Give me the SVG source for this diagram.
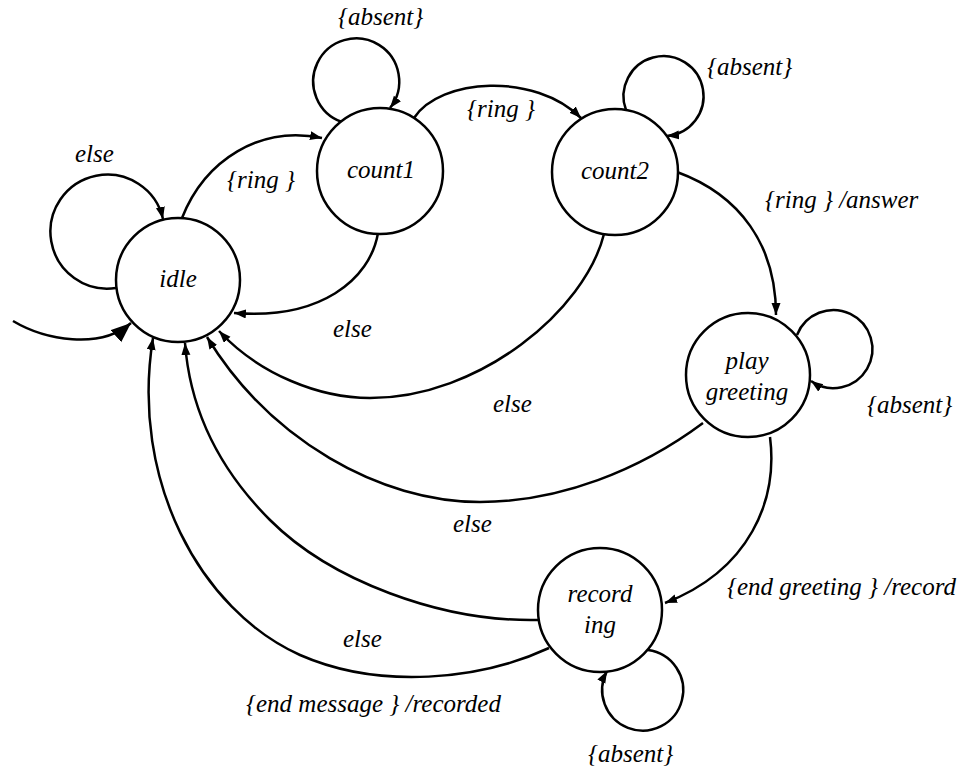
<svg xmlns="http://www.w3.org/2000/svg" width="971" height="771" viewBox="0 0 971 771">
  <defs>
    <marker id="arrow" markerUnits="userSpaceOnUse" markerWidth="13" markerHeight="10" refX="12" refY="4.5" orient="auto">
      <path d="M0,0 L12,4.5 L0,9 z" fill="#000"/>
    </marker>
    <marker id="arrow-init" markerUnits="userSpaceOnUse" markerWidth="22" markerHeight="18" refX="20" refY="8" orient="auto">
      <path d="M0,0 L20,8 L0,16 z" fill="#000"/>
    </marker>
  </defs>
  <style>
    .state { fill: #fff; stroke: #000; stroke-width: 2.5; }
    .edge { fill: none; stroke: #000; stroke-width: 2.5; marker-end: url(#arrow); }
    .init { fill: none; stroke: #000; stroke-width: 2.5; marker-end: url(#arrow-init); }
    text { font-size: 25px; fill: #000; }
  </style>

  <!-- transitions -->
  <g id="connectors">
    <path class="init" d="M13,321 C45,340 100,350 131,323"/>
    <!-- self loops -->
    <path class="edge" d="M116,288 A57,57 0 1 1 163,219"/>
    <path class="edge" d="M342,122 A43,43 0 1 1 390,108"/>
    <path class="edge" d="M626,110 A40,40 0 1 1 667,136"/>
    <path class="edge" d="M797,335 A39,39 0 1 1 811,381"/>
    <path class="edge" d="M648,650 A40.5,40.5 0 1 1 607,671"/>
    <!-- forward -->
    <path class="edge" d="M182,218 C205,160 260,125 322,138"/>
    <path class="edge" d="M414,118 C440,78 535,72 581,118"/>
    <path class="edge" d="M677,172 C740,195 776,245 776,315"/>
    <path class="edge" d="M770,437 C778,500 750,570 665,603"/>
    <!-- back to idle -->
    <path class="edge" d="M378,233 C370,280 320,320 234,313"/>
    <path class="edge" d="M604,234 C585,310 480,398 370,398 C320,398 260,375 219,331"/>
    <path class="edge" d="M703,423 C640,470 560,502 480,502 C380,502 270,440 207,337"/>
    <path class="edge" d="M538,620 C440,622 330,580 270,520 C220,470 190,410 185,343"/>
    <path class="edge" d="M549,648 C480,680 380,690 300,655 C200,610 130,480 153,338"/>
  </g>

  <!-- states -->
  <g id="idle">
    <circle class="state" cx="178" cy="280" r="62"/>
    <text x="178" y="287" text-anchor="middle" font-family="Liberation Serif" font-style="italic">idle</text>
  </g>
  <g id="count1">
    <circle class="state" cx="380" cy="171" r="63"/>
    <text x="381" y="178" text-anchor="middle" font-family="Liberation Serif" font-style="italic">count1</text>
  </g>
  <g id="count2">
    <circle class="state" cx="615" cy="172" r="63"/>
    <text x="615" y="179" text-anchor="middle" font-family="Liberation Serif" font-style="italic">count2</text>
  </g>
  <g id="play-greeting">
    <circle class="state" cx="748" cy="375" r="62"/>
    <text x="747" y="369" text-anchor="middle" font-family="Liberation Serif" font-style="italic">play</text>
    <text x="747" y="400" text-anchor="middle" font-family="Liberation Serif" font-style="italic">greeting</text>
  </g>
  <g id="recording">
    <circle class="state" cx="600" cy="610" r="62"/>
    <text x="600" y="602" text-anchor="middle" font-family="Liberation Serif" font-style="italic">record</text>
    <text x="600" y="633" text-anchor="middle" font-family="Liberation Serif" font-style="italic">ing</text>
  </g>

  <!-- transition labels -->
  <text x="75" y="162" font-family="Liberation Serif" font-style="italic">else</text>
  <text x="227" y="188" font-family="Liberation Serif" font-style="italic">{ring }</text>
  <text x="338" y="25" font-family="Liberation Serif" font-style="italic">{absent}</text>
  <text x="467" y="117" font-family="Liberation Serif" font-style="italic">{ring }</text>
  <text x="707" y="75" font-family="Liberation Serif" font-style="italic">{absent}</text>
  <text x="765" y="208" font-family="Liberation Serif" font-style="italic">{ring } /answer</text>
  <text x="867" y="413" font-family="Liberation Serif" font-style="italic">{absent}</text>
  <text x="727" y="595" font-family="Liberation Serif" font-style="italic">{end greeting } /record</text>
  <text x="588" y="762" font-family="Liberation Serif" font-style="italic">{absent}</text>
  <text x="333" y="337" font-family="Liberation Serif" font-style="italic">else</text>
  <text x="493" y="412" font-family="Liberation Serif" font-style="italic">else</text>
  <text x="453" y="532" font-family="Liberation Serif" font-style="italic">else</text>
  <text x="343" y="647" font-family="Liberation Serif" font-style="italic">else</text>
  <text x="246" y="712" font-family="Liberation Serif" font-style="italic">{end message } /recorded</text>
</svg>
